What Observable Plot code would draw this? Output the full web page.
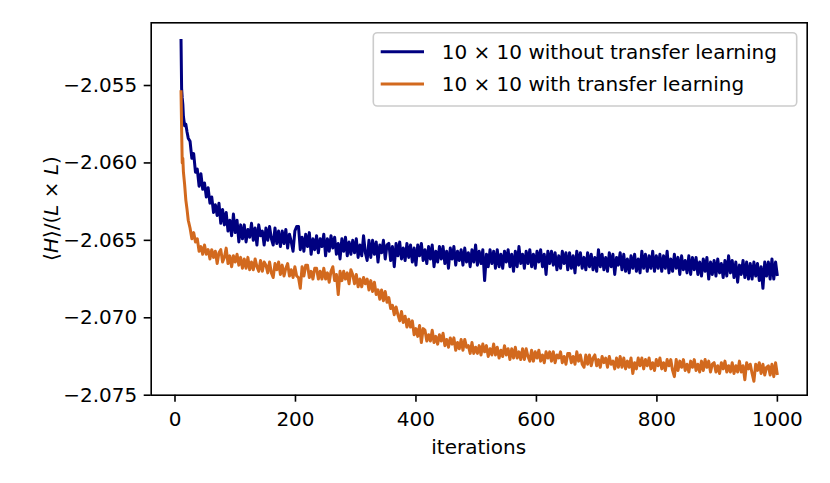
<!DOCTYPE html>
<html>
<head>
<meta charset="utf-8">
<script src="https://cdn.jsdelivr.net/npm/d3@7"></script>
<script src="https://cdn.jsdelivr.net/npm/@observablehq/plot@0.6"></script>
<style>
  html, body { margin: 0; padding: 0; background: white; }
  #chart { width: 830px; height: 483px; }
</style>
</head>
<body>
<div id="chart"></div>
<script>
const iterations = [10,11,12,13,14,16,18,20,22,
25,28,31,34,37,40,43,46,49,52,
55,58,61,64,67,70,73,76,79,82,
85,88,91,94,97,100,103,106,109,112,
115,118,121,124,127,130,133,136,139,142,
145,148,151,154,157,160,163,166,169,172,
175,178,181,184,187,190,193,196,199,202,
205,208,211,214,217,220,223,226,229,232,
235,238,241,244,247,250,253,256,259,262,
265,268,271,274,277,280,283,286,289,292,
295,298,301,304,307,310,313,316,319,322,
325,328,331,334,337,340,343,346,349,352,
355,358,361,364,367,370,373,376,379,382,
385,388,391,394,397,400,403,406,409,412,
415,418,421,424,427,430,433,436,439,442,
445,448,451,454,457,460,463,466,469,472,
475,478,481,484,487,490,493,496,499,502,
505,508,511,514,517,520,523,526,529,532,
535,538,541,544,547,550,553,556,559,562,
565,568,571,574,577,580,583,586,589,592,
595,598,601,604,607,610,613,616,619,622,
625,628,631,634,637,640,643,646,649,652,
655,658,661,664,667,670,673,676,679,682,
685,688,691,694,697,700,703,706,709,712,
715,718,721,724,727,730,733,736,739,742,
745,748,751,754,757,760,763,766,769,772,
775,778,781,784,787,790,793,796,799,802,
805,808,811,814,817,820,823,826,829,832,
835,838,841,844,847,850,853,856,859,862,
865,868,871,874,877,880,883,886,889,892,
895,898,901,904,907,910,913,916,919,922,
925,928,931,934,937,940,943,946,949,952,
955,958,961,964,967,970,973,976,979,982,
985,988,991,994,997,1000];

const withoutTransfer = [-2.0520,-2.0552,-2.0558,-2.0562,-2.0570,-2.0576,-2.0575,-2.0580,-2.0584,
-2.0586,-2.0597,-2.0594,-2.0606,-2.0604,-2.0615,-2.0607,-2.0617,-2.0613,-2.0622,
-2.0616,-2.0626,-2.0622,-2.0632,-2.0627,-2.0634,-2.0626,-2.0639,-2.0630,-2.0640,
-2.0632,-2.0644,-2.0637,-2.0647,-2.0633,-2.0645,-2.0637,-2.0651,-2.0640,-2.0649,
-2.0640,-2.0651,-2.0643,-2.0648,-2.0639,-2.0650,-2.0642,-2.0653,-2.0640,-2.0647,
-2.0644,-2.0653,-2.0642,-2.0650,-2.0641,-2.0649,-2.0653,-2.0642,-2.0652,-2.0644,
-2.0654,-2.0644,-2.0652,-2.0643,-2.0655,-2.0646,-2.0651,-2.0657,-2.0644,-2.0641,
-2.0641,-2.0656,-2.0648,-2.0657,-2.0646,-2.0654,-2.0645,-2.0659,-2.0649,-2.0656,
-2.0647,-2.0658,-2.0649,-2.0654,-2.0646,-2.0660,-2.0649,-2.0657,-2.0647,-2.0655,
-2.0648,-2.0659,-2.0652,-2.0662,-2.0649,-2.0657,-2.0648,-2.0660,-2.0651,-2.0659,
-2.0650,-2.0658,-2.0649,-2.0661,-2.0653,-2.0660,-2.0647,-2.0658,-2.0663,-2.0650,
-2.0661,-2.0650,-2.0659,-2.0651,-2.0664,-2.0653,-2.0658,-2.0650,-2.0662,-2.0653,
-2.0652,-2.0663,-2.0654,-2.0667,-2.0652,-2.0660,-2.0651,-2.0662,-2.0655,-2.0663,
-2.0652,-2.0661,-2.0653,-2.0664,-2.0655,-2.0666,-2.0653,-2.0660,-2.0652,-2.0663,
-2.0656,-2.0665,-2.0654,-2.0662,-2.0653,-2.0667,-2.0657,-2.0664,-2.0654,-2.0662,
-2.0654,-2.0665,-2.0657,-2.0668,-2.0655,-2.0662,-2.0654,-2.0666,-2.0657,-2.0663,
-2.0656,-2.0666,-2.0655,-2.0664,-2.0658,-2.0667,-2.0656,-2.0664,-2.0653,-2.0666,
-2.0657,-2.0665,-2.0656,-2.0676,-2.0659,-2.0667,-2.0656,-2.0665,-2.0657,-2.0668,
-2.0656,-2.0667,-2.0659,-2.0668,-2.0657,-2.0664,-2.0656,-2.0667,-2.0659,-2.0670,
-2.0657,-2.0667,-2.0654,-2.0665,-2.0659,-2.0668,-2.0657,-2.0665,-2.0656,-2.0667,
-2.0659,-2.0668,-2.0657,-2.0664,-2.0656,-2.0667,-2.0659,-2.0672,-2.0657,-2.0665,
-2.0657,-2.0666,-2.0658,-2.0669,-2.0660,-2.0668,-2.0657,-2.0665,-2.0658,-2.0669,
-2.0658,-2.0668,-2.0660,-2.0671,-2.0657,-2.0666,-2.0658,-2.0668,-2.0661,-2.0669,
-2.0658,-2.0667,-2.0659,-2.0669,-2.0661,-2.0670,-2.0656,-2.0667,-2.0659,-2.0669,
-2.0661,-2.0670,-2.0658,-2.0667,-2.0659,-2.0672,-2.0661,-2.0666,-2.0658,-2.0669,
-2.0659,-2.0670,-2.0662,-2.0671,-2.0660,-2.0668,-2.0659,-2.0670,-2.0662,-2.0671,
-2.0657,-2.0668,-2.0659,-2.0670,-2.0660,-2.0668,-2.0657,-2.0670,-2.0660,-2.0668,
-2.0659,-2.0670,-2.0660,-2.0668,-2.0657,-2.0671,-2.0662,-2.0670,-2.0659,-2.0668,
-2.0661,-2.0672,-2.0660,-2.0669,-2.0663,-2.0671,-2.0660,-2.0672,-2.0661,-2.0669,
-2.0661,-2.0672,-2.0664,-2.0673,-2.0662,-2.0670,-2.0661,-2.0675,-2.0664,-2.0672,
-2.0663,-2.0673,-2.0662,-2.0671,-2.0665,-2.0674,-2.0663,-2.0673,-2.0660,-2.0671,
-2.0663,-2.0674,-2.0664,-2.0677,-2.0666,-2.0672,-2.0663,-2.0674,-2.0664,-2.0675,
-2.0665,-2.0675,-2.0664,-2.0673,-2.0665,-2.0676,-2.0667,-2.0681,-2.0664,-2.0673,
-2.0664,-2.0675,-2.0662,-2.0675,-2.0664,-2.0673];

const withTransfer = [-2.0553,-2.0578,-2.0600,-2.0597,-2.0606,-2.0614,-2.0624,-2.0630,-2.0637,
-2.0642,-2.0649,-2.0645,-2.0651,-2.0649,-2.0657,-2.0654,-2.0659,-2.0653,-2.0659,
-2.0656,-2.0662,-2.0656,-2.0661,-2.0657,-2.0665,-2.0658,-2.0656,-2.0664,-2.0661,
-2.0655,-2.0665,-2.0660,-2.0667,-2.0660,-2.0664,-2.0659,-2.0666,-2.0661,-2.0668,
-2.0662,-2.0668,-2.0661,-2.0669,-2.0664,-2.0669,-2.0662,-2.0667,-2.0670,-2.0663,
-2.0670,-2.0664,-2.0666,-2.0671,-2.0664,-2.0671,-2.0674,-2.0665,-2.0669,-2.0664,
-2.0672,-2.0666,-2.0673,-2.0668,-2.0665,-2.0673,-2.0669,-2.0674,-2.0667,-2.0673,
-2.0674,-2.0681,-2.0667,-2.0673,-2.0666,-2.0666,-2.0674,-2.0670,-2.0675,-2.0668,
-2.0668,-2.0675,-2.0670,-2.0675,-2.0668,-2.0675,-2.0671,-2.0677,-2.0670,-2.0667,
-2.0676,-2.0672,-2.0685,-2.0670,-2.0676,-2.0670,-2.0675,-2.0671,-2.0678,-2.0669,
-2.0672,-2.0678,-2.0672,-2.0680,-2.0675,-2.0680,-2.0674,-2.0678,-2.0675,-2.0682,
-2.0676,-2.0683,-2.0677,-2.0685,-2.0682,-2.0688,-2.0682,-2.0689,-2.0683,-2.0690,
-2.0687,-2.0694,-2.0692,-2.0698,-2.0693,-2.0698,-2.0702,-2.0696,-2.0703,-2.0699,
-2.0706,-2.0701,-2.0706,-2.0702,-2.0711,-2.0707,-2.0712,-2.0705,-2.0716,-2.0707,
-2.0708,-2.0715,-2.0711,-2.0715,-2.0708,-2.0716,-2.0712,-2.0717,-2.0711,-2.0715,
-2.0710,-2.0718,-2.0714,-2.0719,-2.0713,-2.0717,-2.0713,-2.0721,-2.0716,-2.0720,
-2.0714,-2.0721,-2.0714,-2.0719,-2.0718,-2.0723,-2.0716,-2.0723,-2.0719,-2.0723,
-2.0718,-2.0724,-2.0717,-2.0722,-2.0718,-2.0725,-2.0720,-2.0724,-2.0717,-2.0724,
-2.0719,-2.0726,-2.0721,-2.0725,-2.0718,-2.0724,-2.0720,-2.0727,-2.0720,-2.0726,
-2.0719,-2.0726,-2.0722,-2.0727,-2.0720,-2.0727,-2.0720,-2.0725,-2.0728,-2.0721,
-2.0728,-2.0722,-2.0726,-2.0721,-2.0728,-2.0724,-2.0729,-2.0722,-2.0726,-2.0722,
-2.0728,-2.0722,-2.0729,-2.0724,-2.0726,-2.0722,-2.0729,-2.0725,-2.0730,-2.0723,
-2.0723,-2.0729,-2.0725,-2.0730,-2.0722,-2.0728,-2.0724,-2.0730,-2.0732,-2.0724,
-2.0730,-2.0724,-2.0731,-2.0726,-2.0724,-2.0731,-2.0727,-2.0732,-2.0725,-2.0729,
-2.0726,-2.0732,-2.0725,-2.0730,-2.0728,-2.0733,-2.0726,-2.0732,-2.0725,-2.0732,
-2.0726,-2.0733,-2.0728,-2.0732,-2.0726,-2.0736,-2.0729,-2.0733,-2.0726,-2.0731,
-2.0726,-2.0733,-2.0727,-2.0731,-2.0726,-2.0733,-2.0729,-2.0734,-2.0727,-2.0731,
-2.0726,-2.0733,-2.0729,-2.0734,-2.0727,-2.0731,-2.0727,-2.0734,-2.0738,-2.0727,
-2.0734,-2.0728,-2.0732,-2.0727,-2.0734,-2.0730,-2.0735,-2.0728,-2.0732,-2.0727,
-2.0734,-2.0730,-2.0735,-2.0728,-2.0734,-2.0727,-2.0732,-2.0728,-2.0735,-2.0730,
-2.0729,-2.0735,-2.0731,-2.0736,-2.0729,-2.0733,-2.0728,-2.0735,-2.0731,-2.0735,
-2.0729,-2.0736,-2.0731,-2.0735,-2.0728,-2.0735,-2.0731,-2.0740,-2.0729,-2.0733,
-2.0730,-2.0736,-2.0741,-2.0730,-2.0734,-2.0729,-2.0736,-2.0730,-2.0737,-2.0732,
-2.0731,-2.0737,-2.0730,-2.0738,-2.0729,-2.0737];

const seriesLabels = ["10 × 10 without transfer learning", "10 × 10 with transfer learning"];
const seriesColors = ["#000080", "#d2691e"];
const xTicks = [0, 200, 400, 600, 800, 1000];
const yTicks = [-2.075, -2.070, -2.065, -2.060, -2.055];

const blueData = iterations.map((x, i) => ({x, y: withoutTransfer[i]}));
const orangeData = iterations.map((x, i) => ({x, y: withTransfer[i]}));

const W = 830, H = 483;
const mL = 150.7, mR = 23.3, mT = 22.3, mB = 88.3;

const chart = Plot.plot({
  width: W,
  height: H,
  marginLeft: mL,
  marginRight: mR,
  marginTop: mT,
  marginBottom: mB,
  style: {fontFamily: "DejaVu Sans, sans-serif", fontSize: "20px", background: "white", color: "black", overflow: "visible"},
  x: {domain: [-39.5, 1049.5]},
  y: {domain: [-2.0750, -2.05095]},
  marks: [
    Plot.line(blueData, {x: "x", y: "y", stroke: seriesColors[0], strokeWidth: 3, strokeLinejoin: "round", strokeLinecap: "butt"}),
    Plot.line(orangeData, {x: "x", y: "y", stroke: seriesColors[1], strokeWidth: 3, strokeLinejoin: "round", strokeLinecap: "butt"}),
    Plot.frame({stroke: "black", strokeWidth: 1.6}),
    Plot.axisX({ticks: xTicks, tickSize: 7, tickPadding: 10, strokeWidth: 1.6, label: null, tickFormat: d => String(d), fontSize: 20}),
    Plot.axisY({ticks: yTicks, tickSize: 7, tickPadding: 7, strokeWidth: 1.6, label: null, tickFormat: d3.format(".3f"), fontSize: 20})
  ]
});

document.getElementById("chart").appendChild(chart);

const svg = d3.select(chart);
const fx = mL + (W - mL - mR) / 2;

// x axis label
svg.append("text")
  .attr("x", fx).attr("y", 454)
  .attr("text-anchor", "middle")
  .attr("font-family", "DejaVu Sans, sans-serif")
  .attr("font-size", 20)
  .attr("fill", "black")
  .text("iterations");

// y axis label with math italics
const yl = svg.append("text")
  .attr("transform", `translate(58,${mT + (H - mT - mB) / 2}) rotate(-90)`)
  .attr("text-anchor", "middle")
  .attr("font-family", "DejaVu Sans, sans-serif")
  .attr("font-size", 20)
  .attr("fill", "black");
yl.append("tspan").text("⟨");
yl.append("tspan").attr("font-style", "italic").text("H");
yl.append("tspan").text("⟩/(");
yl.append("tspan").attr("font-style", "italic").text("L");
yl.append("tspan").text(" × ");
yl.append("tspan").attr("font-style", "italic").text("L");
yl.append("tspan").text(")");

// legend
const lg = svg.append("g");
lg.append("rect")
  .attr("x", 373.3).attr("y", 32.7).attr("width", 423.4).attr("height", 73.3)
  .attr("rx", 4).attr("ry", 4)
  .attr("fill", "white").attr("fill-opacity", 0.8)
  .attr("stroke", "#cccccc").attr("stroke-width", 1.6);
const rows = [51.7, 84];
seriesLabels.forEach((lab, i) => {
  lg.append("line")
    .attr("x1", 380.7).attr("x2", 424).attr("y1", rows[i]).attr("y2", rows[i])
    .attr("stroke", seriesColors[i]).attr("stroke-width", 3);
  lg.append("text")
    .attr("x", 441.7).attr("y", rows[i] + 7)
    .attr("text-anchor", "start")
    .attr("font-family", "DejaVu Sans, sans-serif")
    .attr("font-size", 20)
    .attr("fill", "black")
    .text(lab);
});
</script>
</body>
</html>
